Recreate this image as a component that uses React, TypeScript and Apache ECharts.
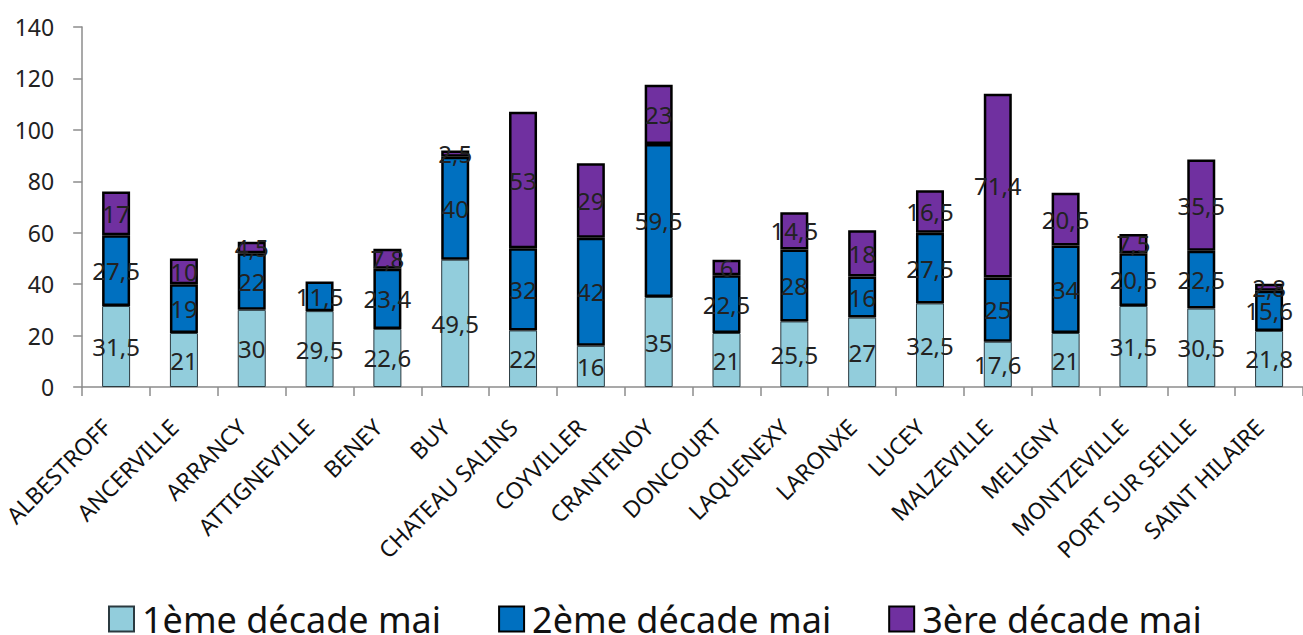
import React, { useEffect, useRef } from "react";
import * as echarts from "echarts";

const categories = [
  "ALBESTROFF", "ANCERVILLE", "ARRANCY", "ATTIGNEVILLE", "BENEY", "BUY",
  "CHATEAU SALINS", "COYVILLER", "CRANTENOY", "DONCOURT", "LAQUENEXY", "LARONXE",
  "LUCEY", "MALZEVILLE", "MELIGNY", "MONTZEVILLE", "PORT SUR SEILLE", "SAINT HILAIRE",
];
const decade1 = [31.5, 21, 30, 29.5, 22.6, 49.5, 22, 16, 35, 21, 25.5, 27, 32.5, 17.6, 21, 31.5, 30.5, 21.8];
const decade2 = [27.5, 19, 22, 11.5, 23.4, 40, 32, 42, 59.5, 22.5, 28, 16, 27.5, 25, 34, 20.5, 22.5, 15.6];
const decade3 = [17, 10, 4.5, null, 7.8, 2.5, 53, 29, 23, 6, 14.5, 18, 16.5, 71.4, 20.5, 7.5, 35.5, 2.8];
const seriesNames = ["1ème décade mai", "2ème décade mai", "3ère décade mai"];
const yTicks = { min: 0, max: 140, interval: 20 };

const FONT = "Noto Sans";

export default function App() {
  const ref = useRef<HTMLDivElement>(null);
  useEffect(() => {
    if (!ref.current) return;
    const chart = echarts.init(ref.current, null, { renderer: "svg" });
    const label = {
      show: true,
      position: "inside",
      color: "#222",
      fontSize: 24,
      fontFamily: FONT,
      formatter: (p: any) => String(p.value).replace(".", ","),
    };
    const mk = (name: string, data: any[], color: string, border: string, bw: number) => ({
      name,
      type: "bar",
      stack: "total",
      data,
      barWidth: 28,
      itemStyle: { color, borderColor: border, borderWidth: bw },
      label,
    });
    chart.setOption({
      animation: false,
      grid: { left: 81, top: 27, width: 1230, height: 360 },
      legend: {
        left: 103,
        top: 596,
        icon: "rect",
        itemWidth: 25,
        itemHeight: 25,
        itemGap: 57,
        textStyle: {
          fontSize: 36,
          lineHeight: 36,
          fontFamily: FONT,
          color: "#111",
          padding: [0, 0, 0, 3],
        },
        data: seriesNames,
      },
      xAxis: {
        type: "category",
        data: categories,
        axisLine: { lineStyle: { color: "#8c8c8c", width: 1.5 } },
        axisTick: { show: true, length: 9, lineStyle: { color: "#8c8c8c", width: 1.5 } },
        axisLabel: {
          interval: 0,
          rotate: 45,
          fontSize: 23,
          fontFamily: FONT,
          color: "#111",
          margin: 26,
          padding: [0, 14, 0, 0],
        },
      },
      yAxis: {
        type: "value",
        min: yTicks.min,
        max: yTicks.max,
        interval: yTicks.interval,
        splitLine: { show: false },
        axisLine: { show: true, lineStyle: { color: "#8c8c8c", width: 1.5 } },
        axisTick: { show: true, length: 9, lineStyle: { color: "#8c8c8c", width: 1.5 } },
        axisLabel: { fontSize: 23, fontFamily: FONT, color: "#222", margin: 28 },
      },
      series: [
        mk(seriesNames[0], decade1, "#92CDDC", "#2b3a40", 1),
        mk(seriesNames[1], decade2, "#0070C0", "#000", 2.5),
        mk(seriesNames[2], decade3, "#7030A0", "#000", 2.5),
      ],
    });
    return () => chart.dispose();
  }, []);
  return (
    <div
      ref={ref}
      style={{ position: "fixed", left: 0, top: 0, width: 1303, height: 635, background: "#fff" }}
    />
  );
}
